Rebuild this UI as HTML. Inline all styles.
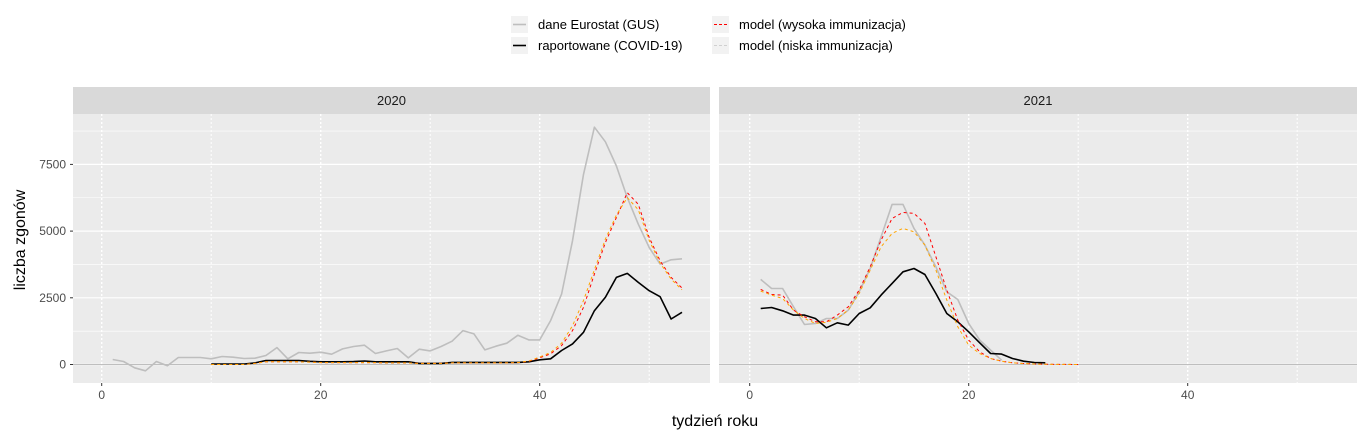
<!DOCTYPE html>
<html><head><meta charset="utf-8"><style>
body{margin:0;background:#fff;}
svg{display:block;font-family:"Liberation Sans",Arial,sans-serif;}
</style></head><body>
<svg id="s" width="1368" height="440" xmlns="http://www.w3.org/2000/svg"></svg>
<script>
const S=document.getElementById('s');let h='';
const y=v=>364.5-0.02668*v;
const panels=[{x0:73,x1:710,z:101.7,lab:'2020'},{x0:719,x1:1357,z:749.7,lab:'2021'}];
const k=10.95;
panels.forEach(p=>{
 h+=`<rect x="${p.x0}" y="114" width="${p.x1-p.x0}" height="269" fill="#ebebeb"/>`;
 h+=`<rect x="${p.x0}" y="87" width="${p.x1-p.x0}" height="27" fill="#d9d9d9"/>`;
 h+=`<text x="${(p.x0+p.x1)/2}" y="105" font-size="13" text-anchor="middle" fill="#1a1a1a">${p.lab}</text>`;
 [1250,3750,6250,8750].forEach(v=>h+=`<line x1="${p.x0}" x2="${p.x1}" y1="${y(v)}" y2="${y(v)}" stroke="#fff" stroke-width="0.6"/>`);
 [0,2500,5000,7500].forEach(v=>h+=`<line x1="${p.x0}" x2="${p.x1}" y1="${y(v)}" y2="${y(v)}" stroke="#fff" stroke-width="1.2"/>`);
 for(let w=0;w<=50;w+=10){const X=p.z+k*w;h+=`<line x1="${X}" x2="${X}" y1="114" y2="383" stroke="#fff" stroke-width="${w%20==0?1.4:1}" stroke-dasharray="2,2"/>`;}
 h+=`<line x1="${p.x0}" x2="${p.x1}" y1="${y(0)}" y2="${y(0)}" stroke="#bebebe" stroke-width="1"/>`;
 [0,20,40].forEach(w=>{const X=p.z+k*w;h+=`<line x1="${X}" x2="${X}" y1="383" y2="386" stroke="#333"/><text x="${X}" y="399" font-size="12" text-anchor="middle" fill="#4d4d4d">${w}</text>`;});
});
[[0,'0'],[2500,'2500'],[5000,'5000'],[7500,'7500']].forEach(([v,t])=>h+=`<line x1="70" x2="73" y1="${y(v)}" y2="${y(v)}" stroke="#333"/><text x="66" y="${y(v)+4}" font-size="12" text-anchor="end" fill="#4d4d4d">${t}</text>`);
h+=`<text x="715" y="426" font-size="16" text-anchor="middle" fill="#000">tydzień roku</text>`;
h+=`<text transform="translate(25,240) rotate(-90)" font-size="16" text-anchor="middle" fill="#000">liczba zgonów</text>`;
function line(p,start,vals,col,wd,dash){let pts=vals.map((v,i)=>(p.z+k*(start+i)).toFixed(1)+','+y(v).toFixed(1)).join(' ');
 h+=`<polyline points="${pts}" fill="none" stroke="${col}" stroke-width="${wd}" ${dash?'stroke-dasharray="'+dash+'"':''} stroke-linejoin="round"/>`;}
const P1=panels[0],P2=panels[1];
const g20=[187,112,-125,-237,112,-50,262,262,262,212,299,274,224,237,336,635,212,449,424,461,386,586,673,723,411,511,598,249,573,511,673,872,1271,1146,548,685,797,1096,922,922,1645,2641,4635,7127,8896,8348,7439,6255,5258,4386,3763,3925,3962];
const b20=[20,20,20,20,60,150,150,150,150,120,100,100,100,110,130,100,100,100,100,40,40,40,80,80,80,80,80,80,80,100,175,212,523,772,1208,2018,2517,3265,3414,3078,2766,2542,1707,1956];
const r20=[0,0,0,0,40,100,100,100,100,90,70,70,70,70,70,70,60,60,60,40,40,40,60,60,60,60,60,60,70,120,250,400,710,1270,2143,3390,4573,5507,6440,6005,4760,3887,3265,2866];
const o20=[0,0,0,0,40,100,100,100,100,90,70,70,70,70,70,70,60,60,60,40,40,40,60,60,60,60,60,60,70,130,280,450,800,1450,2400,3550,4700,5600,6255,5800,4650,3800,3200,2800];
const g21=[3188,2850,2850,2163,1500,1538,1725,1725,2038,2725,3600,4788,6000,6000,5100,4475,3663,2725,2438,1538,913,538,163];
const b21=[2100,2138,2013,1850,1850,1725,1375,1563,1475,1913,2125,2600,3038,3475,3600,3375,2663,1913,1600,1225,813,413,388,225,125,75,63];
const r21=[2813,2625,2600,2038,1788,1600,1600,1850,2163,2788,3663,4663,5475,5700,5663,5288,4038,2788,1663,913,475,225,125,63,38,20,10,5,2,0];
const o21=[2750,2600,2475,2038,1725,1538,1580,1725,2038,2663,3538,4413,4913,5100,4975,4475,3538,2413,1413,725,413,225,125,63,38,20,10,5,2,0];
line(P1,1,g20,'#bebebe',1.6);line(P1,10,b20,'#000',1.6);line(P1,10,r20,'#ff0000',1,'3,3');line(P1,10,o20,'#ffa500',1,'3,3');
line(P2,1,g21,'#bebebe',1.6);line(P2,1,b21,'#000',1.6);line(P2,1,r21,'#ff0000',1,'3,3');line(P2,1,o21,'#ffa500',1,'3,3');
function key(x,yy,col,wd,dash,t){h+=`<rect x="${x}" y="${yy}" width="17" height="17" fill="#f2f2f2"/><line x1="${x+2}" x2="${x+15}" y1="${yy+8.5}" y2="${yy+8.5}" stroke="${col}" stroke-width="${wd}" ${dash?'stroke-dasharray="'+dash+'"':''}/><text x="${x+27}" y="${yy+13}" font-size="13" fill="#000">${t}</text>`;}
key(511,16,'#bebebe',1.6,0,'dane Eurostat (GUS)');
key(511,37,'#000',1.6,0,'raportowane (COVID-19)');
key(712,16,'#ff0000',1,'3,2','model (wysoka immunizacja)');
key(712,37,'#d0d0d0',1,'3,2','model (niska immunizacja)');
S.innerHTML=h;
</script>
</body></html>
